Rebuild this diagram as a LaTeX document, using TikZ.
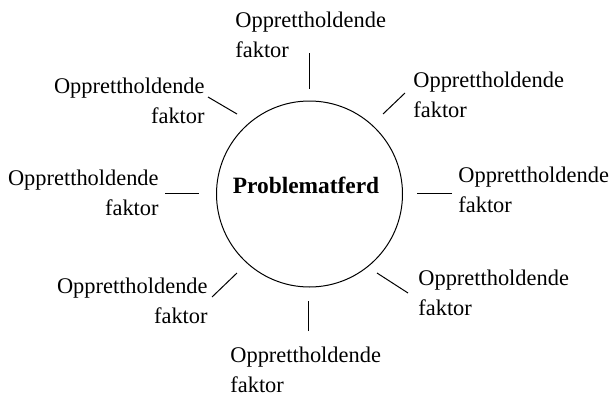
\documentclass[tikz,border=0pt]{standalone}
\usepackage{fontspec}
\setmainfont{Liberation Serif}
\usetikzlibrary{positioning}

\tikzset{
  factor/.style={inner sep=0pt, font=\fontsize{11.2}{15}\selectfont},
  tick/.style={line width=0.5pt},
}

\begin{document}
\begin{tikzpicture}[x=0.5pt,y=-0.5pt]
    \useasboundingbox (0,0) rectangle (611,396);

    % Centre
    \node[circle, draw, line width=0.5pt, minimum size=93pt, inner sep=0pt] (prob) at (309.5,194) {};
    \node[inner sep=0pt, anchor=base, font=\fontsize{11.7}{14}\selectfont\bfseries] (probtext) at (306,193) {Problematferd};

    % Factors, left aligned (right half); placed at the baseline of "faktor"
    \node[factor, anchor=base west, align=left] (top) at (235,57) {Opprettholdende\\faktor};
    \node[factor, anchor=base west, align=left] (upright) at (413,117) {Opprettholdende\\faktor};
    \node[factor, anchor=base west, align=left] (right) at (458,212) {Opprettholdende\\faktor};
    \node[factor, anchor=base west, align=left] (lowright) at (418,315) {Opprettholdende\\faktor};
    \node[factor, anchor=base west, align=left] (bottom) at (230,392) {Opprettholdende\\faktor};

    % Factors, right aligned (left half)
    \node[factor, anchor=base east, align=right] (lowleft) at (208,323) {Opprettholdende\\faktor};
    \node[factor, anchor=base east, align=right] (left) at (159,215) {Opprettholdende\\faktor};
    \node[factor, anchor=base east, align=right] (upleft) at (205,123) {Opprettholdende\\faktor};

    % Tick ends
    \coordinate (top-a) at (309,53);      \coordinate (top-b) at (309,89);
    \coordinate (upright-a) at (405,93);  \coordinate (upright-b) at (383,114);
    \coordinate (right-a) at (452,193);   \coordinate (right-b) at (417,193);
    \coordinate (lowright-a) at (408,293);\coordinate (lowright-b) at (377,273);
    \coordinate (bottom-a) at (308,331);  \coordinate (bottom-b) at (308,301);
    \coordinate (lowleft-a) at (212,297); \coordinate (lowleft-b) at (237,273);
    \coordinate (left-a) at (165,193);    \coordinate (left-b) at (199,193);
    \coordinate (upleft-a) at (208,97);   \coordinate (upleft-b) at (237,114);

    % Ticks
    \foreach \f in {top,upright,right,lowright,bottom,lowleft,left,upleft}
        \draw[tick] (\f-a) -- (\f-b);

\end{tikzpicture}
\end{document}
